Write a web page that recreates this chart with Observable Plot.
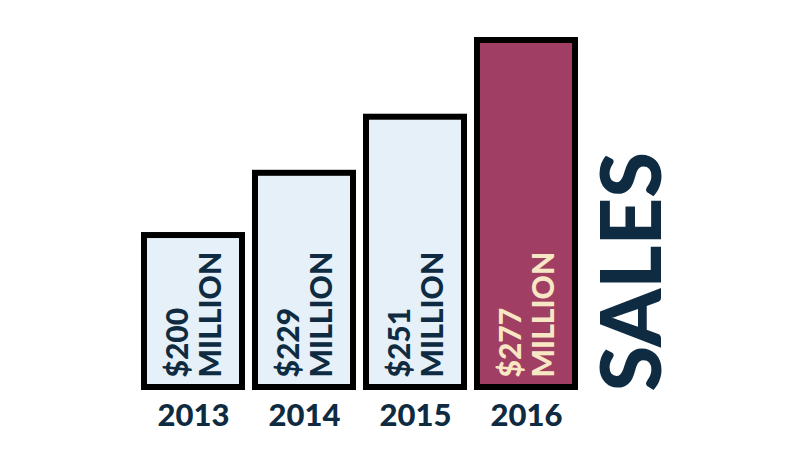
<!DOCTYPE html>
<html>
<head>
<meta charset="utf-8">
<script src="https://cdn.jsdelivr.net/npm/d3@7"></script>
<script src="https://cdn.jsdelivr.net/npm/@observablehq/plot@0.6"></script>
<style>
  html, body { margin: 0; padding: 0; background: #ffffff; }
  #chart { width: 800px; height: 450px; }
  svg { font-family: Lato, "Open Sans", sans-serif; }
</style>
</head>
<body>
<div id="chart"></div>
<script>
const years = ["2013", "2014", "2015", "2016"];
const sales = [200, 229, 251, 277];
const valueLabels = ["$200\nMILLION", "$229\nMILLION", "$251\nMILLION", "$277\nMILLION"];
const highlight = [false, false, false, true];
const title = "SALES";

const data = years.map((y, i) => ({year: y, value: sales[i], label: valueLabels[i], hi: highlight[i]}));

const navy = "#0f2b42";
const chart = Plot.plot({
  width: 800,
  height: 450,
  marginTop: 1,
  marginBottom: 63,
  marginLeft: 142,
  marginRight: 224,
  x: {type: "band", domain: years, paddingInner: 0.12, paddingOuter: 0, axis: null},
  y: {type: "pow", exponent: 2.535, domain: [0, d3.max(sales)], range: [387, 40], axis: null},
  marks: [
    Plot.rectY(data, {
      x: "year", y1: 0, y2: "value",
      fill: d => d.hi ? "#a03f63" : "#e5f0f8",
      stroke: "#000000", strokeWidth: 6
    }),
    Plot.text(data, {
      x: "year", text: "label", frameAnchor: "bottom", dy: -10,
      rotate: -90, textAnchor: "start", lineAnchor: "middle", lineHeight: 1.1,
      fontSize: 30, fontWeight: 900, letterSpacing: 0.5,
      fill: d => d.hi ? "#f8e7c4" : navy
    }),
    Plot.text(data, {
      x: "year", text: "year", frameAnchor: "bottom", dy: 29,
      lineAnchor: "middle", fontSize: 31, fontWeight: 900, fill: navy
    }),
    Plot.text([title], {
      text: d => d, frameAnchor: "bottom-right", dx: 58, dy: 4,
      rotate: -90, textAnchor: "start", lineAnchor: "middle",
      fontSize: 83, fontWeight: 900, fill: navy
    })
  ]
});
document.getElementById("chart").appendChild(chart);
</script>
</body>
</html>
